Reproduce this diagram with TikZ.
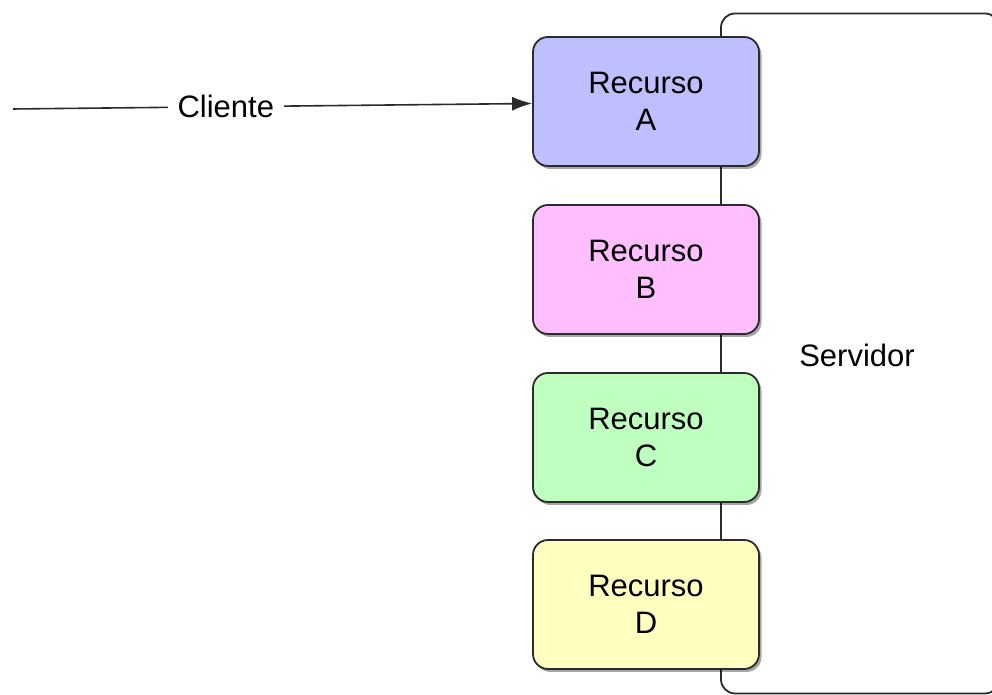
\documentclass[tikz,border=0pt]{standalone}
\usepackage{fontspec}
\setmainfont{Liberation Sans}
\usetikzlibrary{shadows,arrows.meta,calc}
\definecolor{resA}{HTML}{BFBFFF}
\definecolor{resB}{HTML}{FFBFFF}
\definecolor{resC}{HTML}{BFFFBF}
\definecolor{resD}{HTML}{FFFFBF}
\definecolor{edge}{HTML}{2B2B2B}
\tikzset{
  resbox/.style={draw=edge, line width=1.8pt, rounded corners=15pt,
    minimum width=226pt, minimum height=129pt, align=center,
    font=\fontsize{31}{37}\selectfont,
    drop shadow={shadow xshift=2.5pt, shadow yshift=-3pt, opacity=0.35, fill=black}},
  serverbox/.style={draw=edge, line width=1.8pt, rounded corners=14pt},
  lbl/.style={font=\fontsize{31}{36}\selectfont},
  link/.style={draw=edge, line width=1.6pt, -{Latex[length=20pt,width=14pt]}}
}
\begin{document}
\begin{tikzpicture}[x=1pt,y=1pt]
\useasboundingbox (0,0) rectangle (992,695);
\begin{scope}
\clip (0,0) rectangle (992,695);
\draw[serverbox] (721,681.5) rectangle (999,1.5);
\end{scope}
\node[lbl] (srv) at (857,340) {Servidor};
\node[resbox, fill=resA] (A) at (646,593.5) {Recurso\\A};
\node[resbox, fill=resB] (B) at (646,425.5) {Recurso\\B};
\node[resbox, fill=resC] (C) at (646,257.5) {Recurso\\C};
\node[resbox, fill=resD] (D) at (646,90.5) {Recurso\\D};
\coordinate (start) at (13,586);
\draw[link] (start) -- node[pos=0.41, lbl, fill=white, inner xsep=10pt] (cli) {Cliente} ($(A.west)+(0,-2)$);
\end{tikzpicture}
\end{document}
